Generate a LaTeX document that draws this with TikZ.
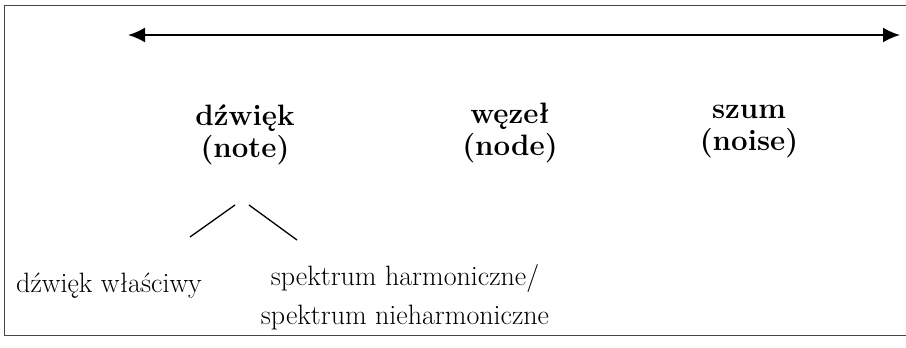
\documentclass[tikz,border=0pt]{standalone}
\usepackage{fontspec}
\usepackage{tikz}
\usetikzlibrary{arrows.meta,positioning}
\definecolor{frgray}{RGB}{70,70,70}
\tikzstyle{arrow} = [line width=2pt,{Latex[length=17pt,width=15pt]}-{Latex[length=17pt,width=15pt]}]
\tikzstyle{term} = [align=center, inner sep=0pt, font=\fontsize{29.5}{32}\selectfont\bfseries]
\tikzstyle{sub} = [align=center, inner sep=0pt, font=\fontsize{28}{39}\selectfont]
\tikzstyle{branch} = [line width=1.3pt]

\begin{document}
\begin{tikzpicture}[x=1pt, y=-1pt]
    \useasboundingbox (0,0) rectangle (906,348);
    % Frame
    \draw[frgray, line width=1pt] (4.5,5.5) rectangle (915,335.5);

    % Scale
    \coordinate (left end) at (128,35);
    \coordinate (right end) at (900,35);
    \draw[arrow] (left end) -- (right end);

    % Terms
    \node[term] (note) at (245,135) {d\'zwi\k{e}k\\(note)};
    \node[term] (node) at (510,133) {w\k{e}ze\l\\(node)};
    \node[term] (noise) at (749,132) {szum\\(noise)};

    % Kinds of note
    \node[sub] (proper) at (109,286) {d\'zwi\k{e}k w\l a\'sciwy};
    \node[sub] (spectrum) at (405,297) {spektrum harmoniczne/\\spektrum nieharmoniczne};

    \coordinate (fork left) at (235,205);
    \coordinate (fork right) at (249,205);
    \draw[branch] (fork left) -- (190,237);
    \draw[branch] (fork right) -- (297,240);
\end{tikzpicture}
\end{document}
